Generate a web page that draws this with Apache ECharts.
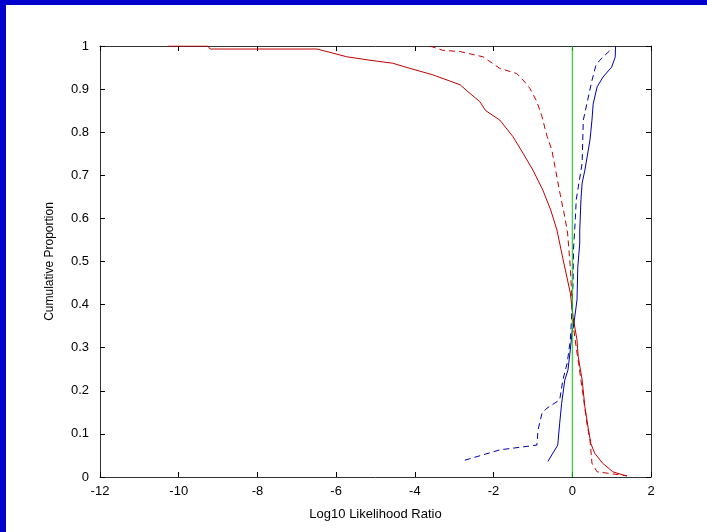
<!DOCTYPE html>
<html>
<head>
<meta charset="utf-8">
<script src="https://cdn.jsdelivr.net/npm/echarts@6/dist/echarts.min.js"></script>
<style>
  html, body { margin: 0; padding: 0; background: #0000cc; }
  #wrap {
    position: absolute; left: 0; top: 0;
    width: 707px; height: 532px;
    box-sizing: border-box;
    border-left: 6px solid #0000cc;
    border-top: 5px solid #0000cc;
    background: #fff;
  }
  #main { width: 701px; height: 527px; }
</style>
</head>
<body>
<div id="wrap"><div id="main"></div></div>
<script>
// x = log10 likelihood ratio, y = cumulative proportion
const redSolid = [
  [-10.27, 1.0], [-9.26, 1.0], [-9.2, 0.993], [-6.49, 0.993], [-6.23, 0.987],
  [-5.73, 0.975], [-5.14, 0.967], [-4.56, 0.96], [-4.12, 0.948], [-3.54, 0.933],
  [-2.85, 0.91], [-2.6, 0.89], [-2.35, 0.871], [-2.2, 0.85], [-1.84, 0.828],
  [-1.51, 0.79], [-1.25, 0.751], [-1.0, 0.712], [-0.75, 0.666], [-0.55, 0.62],
  [-0.39, 0.573], [-0.23, 0.503], [-0.05, 0.427], [0.02, 0.371], [0.12, 0.318],
  [0.15, 0.28], [0.25, 0.225], [0.32, 0.163], [0.4, 0.116], [0.47, 0.078],
  [0.57, 0.055], [0.77, 0.032], [1.03, 0.012], [1.39, 0.002]
];
const redDashed = [
  [-3.62, 1.0], [-3.29, 0.99], [-2.85, 0.987], [-2.27, 0.975], [-1.84, 0.948],
  [-1.41, 0.936], [-1.25, 0.921], [-1.08, 0.902], [-0.9, 0.871], [-0.77, 0.836],
  [-0.64, 0.79], [-0.52, 0.759], [-0.44, 0.72], [-0.33, 0.666], [-0.19, 0.603],
  [-0.12, 0.566], [-0.05, 0.487], [0.0, 0.394], [0.03, 0.348], [0.1, 0.3],
  [0.16, 0.264], [0.28, 0.186], [0.37, 0.125], [0.45, 0.086], [0.5, 0.032],
  [0.63, 0.012], [1.21, 0.005], [1.39, 0.003]
];
const blueSolid = [
  [-0.62, 0.036], [-0.37, 0.074], [-0.32, 0.125], [-0.27, 0.171], [-0.19, 0.225],
  [-0.11, 0.248], [-0.05, 0.295], [0.0, 0.341], [0.03, 0.348], [0.12, 0.411],
  [0.14, 0.487], [0.19, 0.543], [0.19, 0.573], [0.22, 0.643], [0.25, 0.682],
  [0.32, 0.712], [0.45, 0.782], [0.5, 0.828], [0.53, 0.865], [0.63, 0.905],
  [0.78, 0.928], [1.0, 0.951], [1.09, 0.974], [1.1, 1.0]
];
const blueDashed = [
  [-2.73, 0.039], [-1.84, 0.063], [-0.9, 0.074], [-0.87, 0.109], [-0.77, 0.148],
  [-0.64, 0.16], [-0.32, 0.179], [-0.24, 0.225], [-0.13, 0.264], [-0.05, 0.318],
  [-0.03, 0.348], [0.02, 0.45], [0.03, 0.527], [0.08, 0.603], [0.1, 0.643],
  [0.25, 0.728], [0.28, 0.828], [0.38, 0.87], [0.5, 0.92], [0.6, 0.955],
  [0.7, 0.967], [0.96, 0.99]
];
const zeroLine = [[0, 0], [0, 1]];

const font = "Liberation Sans";
const tick = { show: true, inside: true, length: 5, lineStyle: { color: "#000" } };

const chart = echarts.init(document.getElementById("main"), null, { renderer: "canvas" });
chart.setOption({
  backgroundColor: "#fff",
  animation: false,
  grid: { left: 94, top: 41, right: 56, bottom: 55 },
  xAxis: [
    {
      type: "value", min: -12, max: 2, interval: 2,
      name: "Log10 Likelihood Ratio", nameLocation: "middle", nameGap: 31,
      nameTextStyle: { fontFamily: font, fontSize: 13, color: "#000" },
      axisLine: { onZero: false, lineStyle: { color: "#333" } },
      axisTick: tick,
      axisLabel: { fontFamily: font, fontSize: 13, color: "#000", margin: 8 },
      splitLine: { show: false }
    },
    {
      type: "value", min: -12, max: 2, interval: 2, position: "top",
      axisLine: { onZero: false, lineStyle: { color: "#333" } },
      axisTick: tick, axisLabel: { show: false }, splitLine: { show: false }
    }
  ],
  yAxis: [
    {
      type: "value", min: 0, max: 1, interval: 0.1,
      name: "Cumulative Proportion", nameLocation: "middle", nameGap: 44,
      nameTextStyle: { fontFamily: font, fontSize: 12, color: "#000" },
      axisLine: { show: true, onZero: false, lineStyle: { color: "#333" } },
      axisTick: tick,
      axisLabel: { fontFamily: font, fontSize: 13, color: "#000", margin: 11 },
      splitLine: { show: false }
    },
    {
      type: "value", min: 0, max: 1, interval: 0.1, position: "right",
      axisLine: { show: true, onZero: false, lineStyle: { color: "#333" } },
      axisTick: tick, axisLabel: { show: false }, splitLine: { show: false }
    }
  ],
  series: [
    { name: "red", type: "line", data: redSolid, showSymbol: false,
      lineStyle: { color: "#c00000", width: 1 } },
    { name: "red dashed", type: "line", data: redDashed, showSymbol: false,
      lineStyle: { color: "#c00000", width: 1, type: [6, 4] } },
    { name: "blue", type: "line", data: blueSolid, showSymbol: false,
      lineStyle: { color: "#0000a8", width: 1 } },
    { name: "blue dashed", type: "line", data: blueDashed, showSymbol: false,
      lineStyle: { color: "#0000a8", width: 1, type: [6, 4] } },
    { name: "zero", type: "line", data: zeroLine, showSymbol: false,
      lineStyle: { color: "#00d000", width: 1 } }
  ]
});
</script>
</body>
</html>
